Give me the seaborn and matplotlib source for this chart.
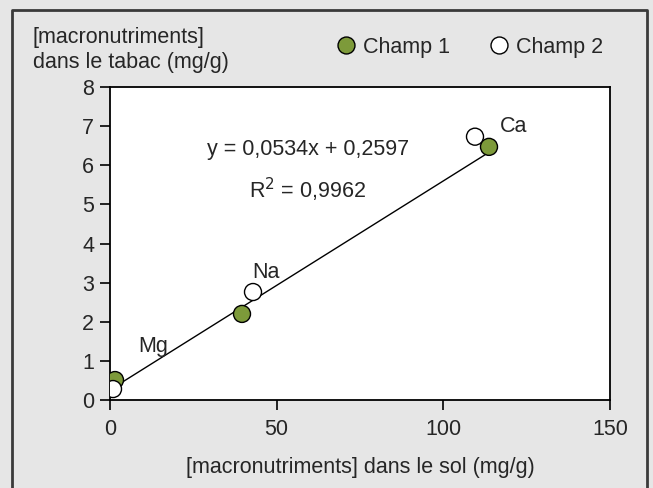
import matplotlib
matplotlib.use("Agg")
import matplotlib.pyplot as plt
from matplotlib.lines import Line2D
import seaborn as sns
import pandas as pd
import numpy as np

elements = ["Mg", "Na", "Ca"]
champ1_sol = [1.5, 39.6, 113.7]
champ1_tabac = [0.51, 2.2, 6.47]
champ2_sol = [0.9, 42.9, 109.5]
champ2_tabac = [0.28, 2.76, 6.73]
slope = 0.0534
intercept = 0.2597
r2 = 0.9962
x_ticks = [0, 50, 100, 150]
y_ticks = [0, 1, 2, 3, 4, 5, 6, 7, 8]

green = "#7d9a3a"
bg = "#e6e6e6"
FS = 15.5

df = pd.DataFrame({
    "sol": champ1_sol + champ2_sol,
    "tabac": champ1_tabac + champ2_tabac,
    "champ": ["Champ 1"] * 3 + ["Champ 2"] * 3,
})

sns.set_style("white")
plt.rcParams["font.family"] = ["Liberation Sans", "DejaVu Sans"]

fig = plt.figure(figsize=(6.53, 4.88), dpi=100, facecolor=bg)
W, H = 653, 488
ax = fig.add_axes([110 / W, 1 - 400 / H, 500 / W, 313 / H])
ax.set_facecolor("white")

# regression line
xs = np.array([min(df["sol"]), max(df["sol"])])
sns.lineplot(x=xs, y=slope * xs + intercept, ax=ax, color="black", linewidth=1.0, zorder=2)

sns.scatterplot(data=df, x="sol", y="tabac", hue="champ",
                palette={"Champ 1": green, "Champ 2": "white"},
                s=150, edgecolor="black", linewidth=1.0, ax=ax, legend=False, zorder=3)

ax.set_xlim(0, 150)
ax.set_ylim(0, 8)
ax.set_xticks(x_ticks)
ax.set_yticks(y_ticks)
ax.tick_params(axis="both", direction="out", length=7, width=1.2, labelsize=FS,
               left=True, bottom=True, color="black")
ax.tick_params(axis="x", pad=7)
ax.tick_params(axis="y", pad=4.5)
for s in ax.spines.values():
    s.set_color("black")
    s.set_linewidth(1.3)
ax.set_xlabel("[macronutriments] dans le sol (mg/g)", fontsize=FS, labelpad=12)
ax.set_ylabel("")

ax.text(59.4, 6.39, "y = 0,0534x + 0,2597", fontsize=FS, ha="center", va="center")
ax.text(59.4, 5.37, "R$^2$ = 0,9962", fontsize=FS, ha="center", va="center")
ax.text(121, 7.0, "Ca", fontsize=FS, ha="center", va="center")
ax.text(46.8, 3.27, "Na", fontsize=FS, ha="center", va="center")
ax.text(12.9, 1.36, "Mg", fontsize=FS, ha="center", va="center")

fig.text(33 / W, 1 - 50 / H, "[macronutriments]\ndans le tabac (mg/g)", fontsize=FS,
         ha="left", va="center", linespacing=1.2)

handles = [
    Line2D([], [], marker="o", linestyle="", markerfacecolor=green, markeredgecolor="black",
           markersize=12.2, label="Champ 1"),
    Line2D([], [], marker="o", linestyle="", markerfacecolor="white", markeredgecolor="black",
           markersize=12.2, label="Champ 2"),
]
leg = fig.legend(handles=handles, loc="center left", bbox_to_anchor=(335 / W, 1 - 47 / H), ncol=2,
                 frameon=False, fontsize=FS, handletextpad=0.29, columnspacing=1.8,
                 handlelength=1.0, borderpad=0, borderaxespad=0)

# figure border (left, top, right)
border = Line2D([12 / W, 12 / W, 647 / W, 647 / W], [0, 1 - 10 / H, 1 - 10 / H, 0],
                transform=fig.transFigure, color="#3a3a3a", linewidth=2)
fig.add_artist(border)

fig.savefig("out.png", dpi=100, facecolor=bg)
